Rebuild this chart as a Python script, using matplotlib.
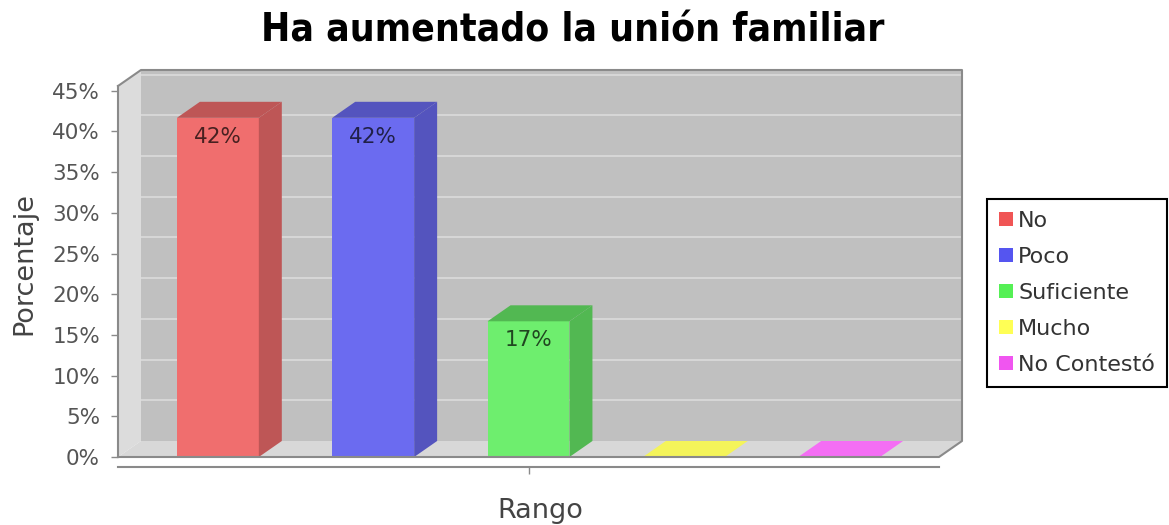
import matplotlib
matplotlib.use("Agg")
import matplotlib.pyplot as plt
from matplotlib.patches import Polygon, Rectangle, Patch

# data
categorias = ["No", "Poco", "Suficiente", "Mucho", "No Contestó"]
porcentajes = [41.67, 41.67, 16.67, 0.0, 0.0]
etiquetas = ["42%", "42%", "17%", "", ""]
ticks_y = [0, 5, 10, 15, 20, 25, 30, 35, 40, 45]

# colours (front face, side/top face, legend)
col_frente = ["#F06E6E", "#6B6BF0", "#6EEE6E", "#F4F45A", "#F46EF4"]
col_lado = ["#BE5656", "#5454BE", "#52B852", "#E6E650", "#E05AE0"]
col_leyenda = ["#F05555", "#5555F0", "#55F055", "#FFFF55", "#F055F0"]

fig = plt.figure(figsize=(11.69, 5.25), dpi=100)
W, H = 1169, 525
ax = fig.add_axes([118 / W, (H - 457) / H, (962 - 118) / W, (457 - 70) / H])

# 3D geometry in data units
px_x = 155.5          # pixels per category
px_y = 8.14           # pixels per percent
dx = 23 / px_x
dy = 16 / px_y
x0 = -0.5 - (100 - 0.5 * px_x) / px_x
x1 = len(categorias) - 1 - x0
ytop = (457 - 70) / px_y
yfront = ytop - dy
ancho = 82 / px_x

ax.set_xlim(x0, x1 + dx)
ax.set_ylim(0, ytop)
ax.set_facecolor("none")

# walls
ax.add_patch(Rectangle((x0 + dx, dy), x1 - x0, ytop - dy,
                       facecolor="#C0C0C0", edgecolor="none", zorder=0))
ax.add_patch(Polygon([(x0, 0), (x0 + dx, dy), (x0 + dx, ytop), (x0, yfront)],
                     facecolor="#DCDCDC", edgecolor="none", zorder=0))
ax.add_patch(Polygon([(x0, 0), (x1, 0), (x1 + dx, dy), (x0 + dx, dy)],
                     facecolor="#D8D8D8", edgecolor="none", zorder=0))

# grid lines on the back wall
for t in ticks_y[1:]:
    ax.plot([x0 + dx, x1 + dx], [t + dy, t + dy], color="#DEDEDE", lw=1.1, zorder=1)

# bars
for i, (v, cf, cl) in enumerate(zip(porcentajes, col_frente, col_lado)):
    l, r = i - ancho / 2, i + ancho / 2
    ax.add_patch(Rectangle((l, 0), ancho, v, facecolor=cf, edgecolor="none", zorder=3))
    ax.add_patch(Polygon([(r, 0), (r + dx, dy), (r + dx, v + dy), (r, v)],
                         facecolor=cl, edgecolor="none", zorder=3))
    ax.add_patch(Polygon([(l, v), (l + dx, v + dy), (r + dx, v + dy), (r, v)],
                         facecolor=cl if v > 0 else cf, edgecolor="none", zorder=3))
    if etiquetas[i]:
        ax.text(i, v - 1.1, etiquetas[i], ha="center", va="top", fontsize=15.5,
                color="black", alpha=0.7, zorder=4)

# outline of the box
ax.plot([x0, x0 + dx, x1 + dx, x1 + dx, x1, x0],
        [yfront, ytop, ytop, dy, 0, 0], color="#8A8A8A", lw=1.5,
        zorder=5, clip_on=False)

# axes
for s in ["top", "right"]:
    ax.spines[s].set_visible(False)
ax.spines["left"].set_bounds(0, yfront)
ax.spines["left"].set_color("#8A8A8A")
ax.spines["left"].set_linewidth(1.5)
ax.spines["bottom"].set_position(("outward", 7))
ax.spines["bottom"].set_bounds(x0, x1)
ax.spines["bottom"].set_color("#8A8A8A")
ax.spines["bottom"].set_linewidth(1.5)

ax.set_yticks(ticks_y)
ax.set_yticklabels([f"{t}%" for t in ticks_y])
ax.set_xticks([len(categorias) // 2])
ax.set_xticklabels([""])
ax.tick_params(axis="both", color="#8A8A8A", length=5, width=1,
               labelsize=15.5, labelcolor="#555555")
ax.tick_params(axis="y", pad=8)

ax.set_xlabel("Rango", fontsize=19.5, color="#444444", labelpad=14)
ax.set_ylabel("Porcentaje", fontsize=19.5, color="#444444", va="center")
ax.yaxis.set_label_coords((24 - 118) / (962 - 118), 0.5)

fig.text(573 / W, 1 - 42 / H, "Ha aumentado la unión familiar",
         ha="center", va="baseline", fontsize=28, fontweight="bold",
         fontstretch="condensed", family="DejaVu Sans")

handles = [Patch(facecolor=c, edgecolor="none") for c in col_leyenda]
leg = fig.legend(handles, categorias, loc="upper left",
                 bbox_to_anchor=(987 / W, 1 - 199 / H), fontsize=16,
                 frameon=True, fancybox=False, framealpha=1, edgecolor="black",
                 handlelength=0.6, handleheight=0.6, handletextpad=0.25,
                 labelspacing=0.72, borderpad=0.55, borderaxespad=0)
leg.get_frame().set_linewidth(1.5)
for t in leg.get_texts():
    t.set_color("#333333")

fig.savefig("out.png", dpi=100)
